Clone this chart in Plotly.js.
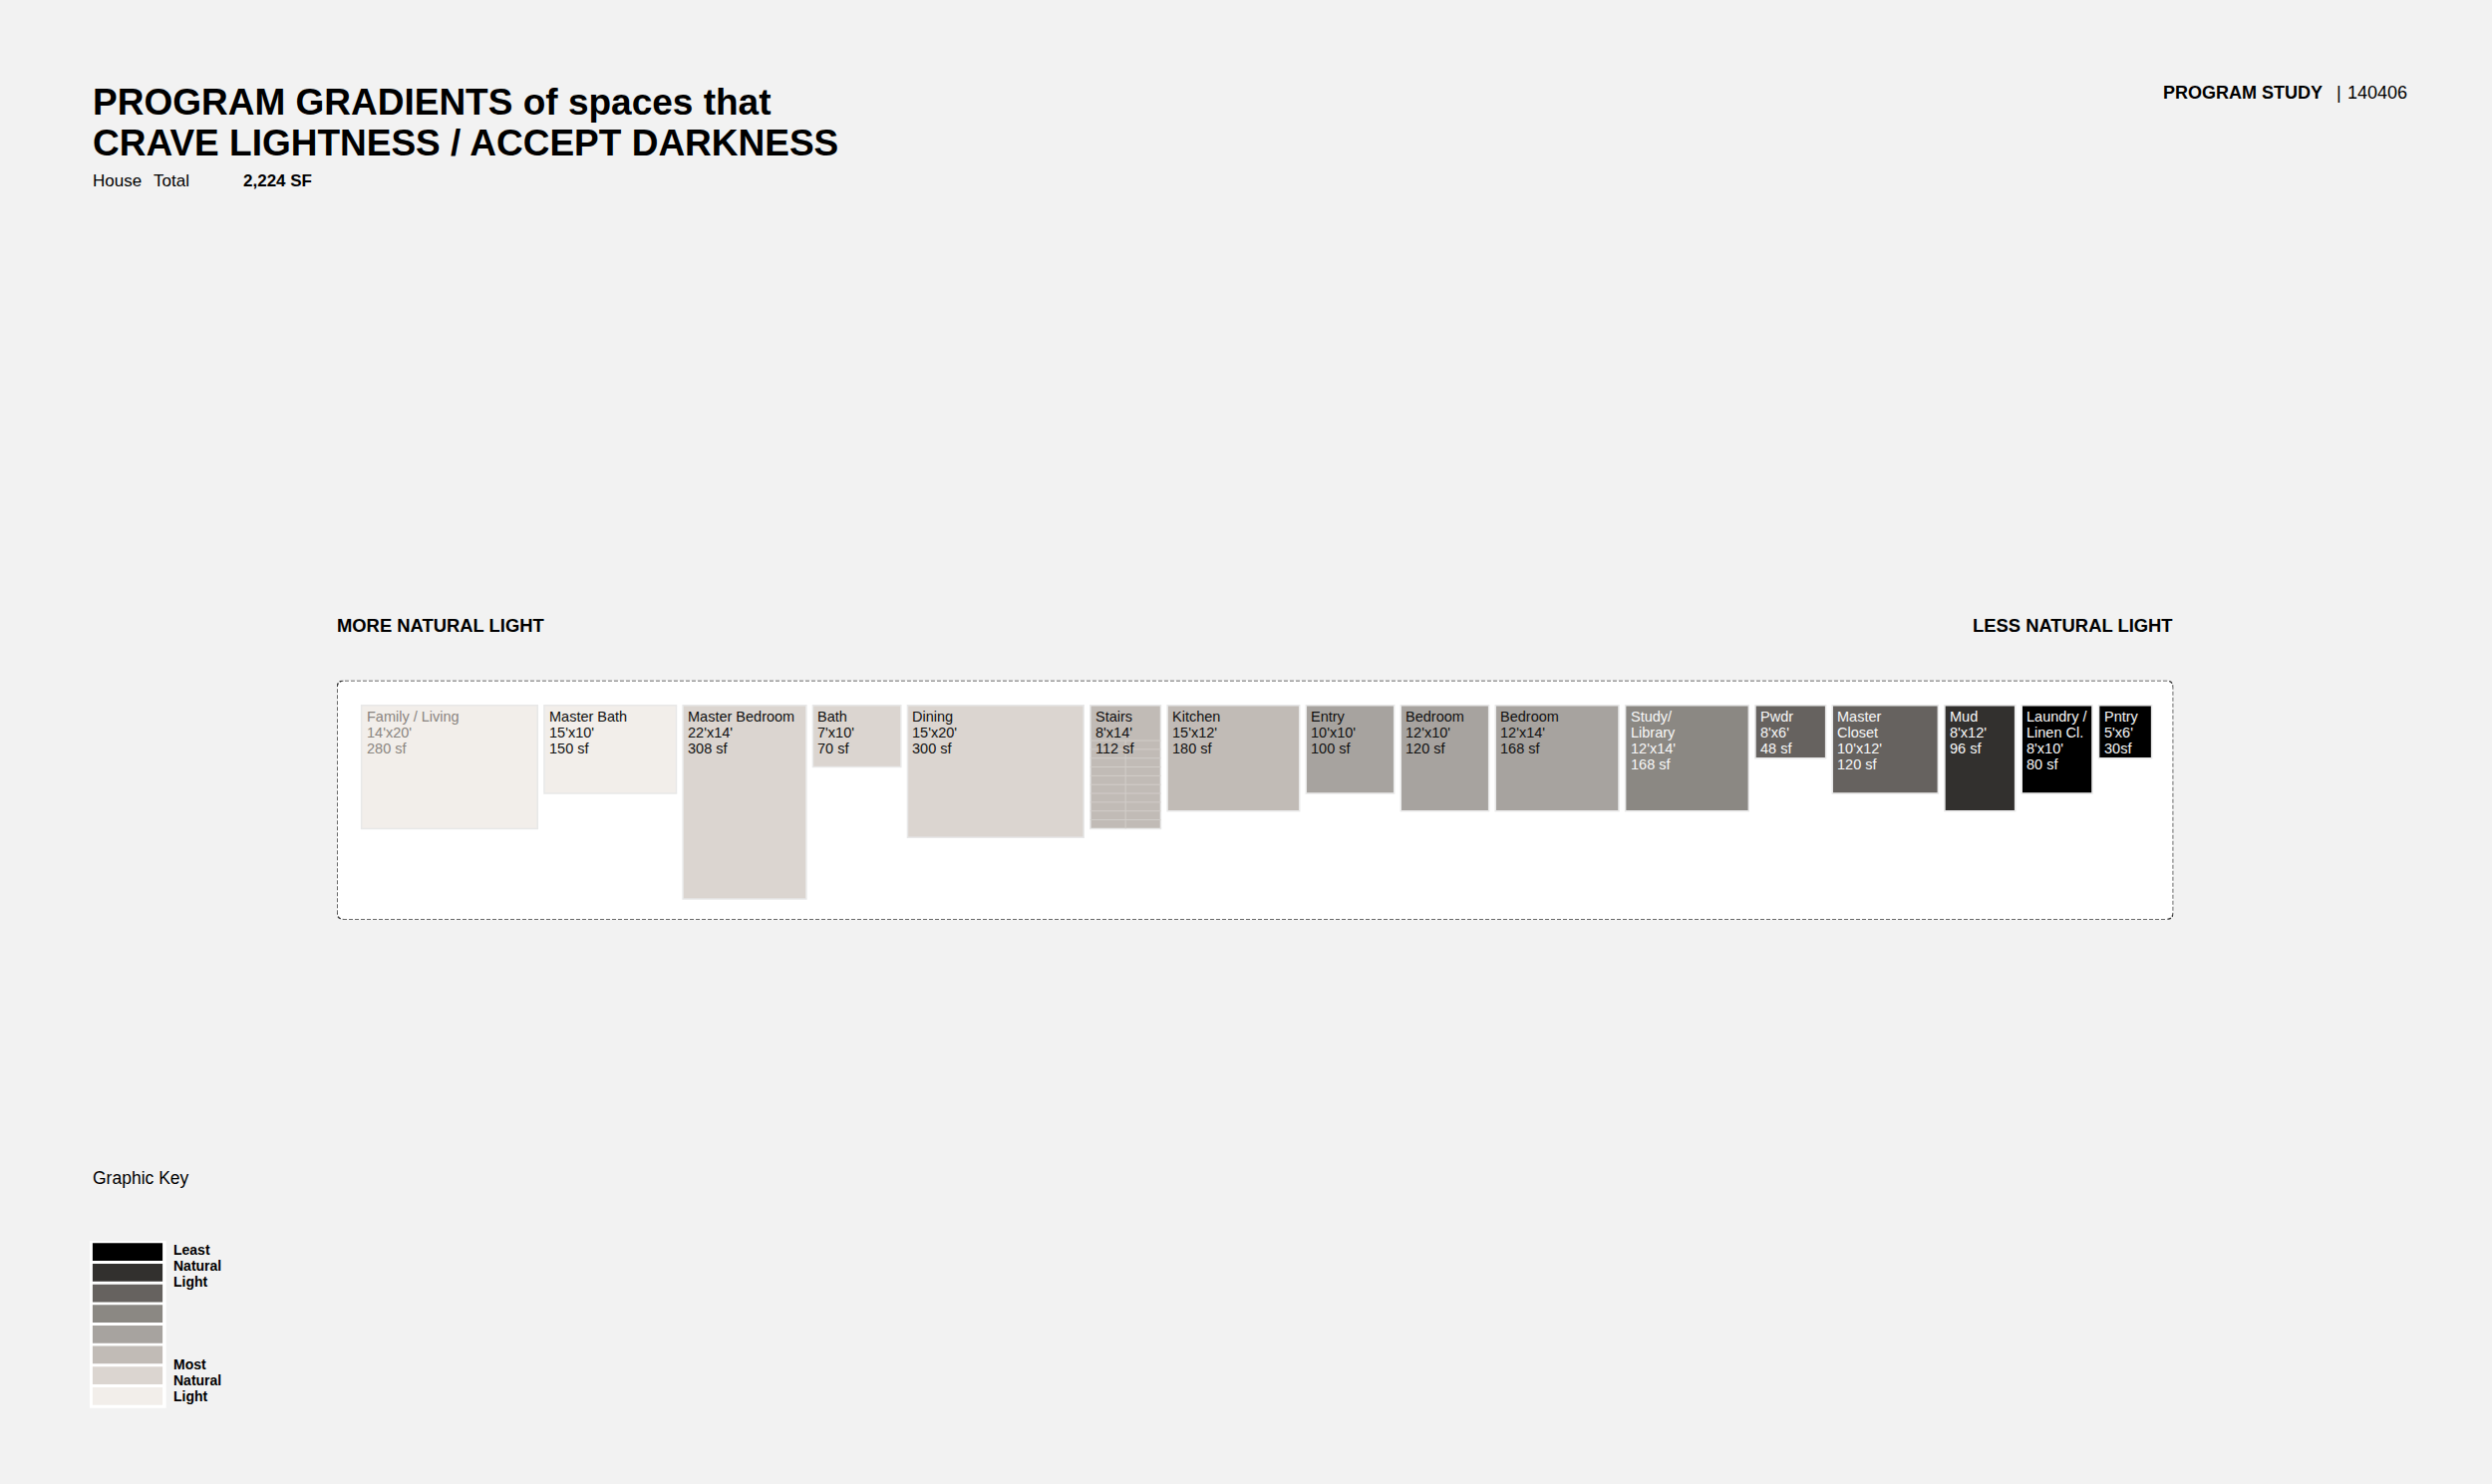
<!DOCTYPE html>
<html><head><meta charset="utf-8">
<script src="https://cdn.plot.ly/plotly-3.0.1.min.js"></script>
<style>html,body{margin:0;padding:0;background:#f2f2f2;}</style>
</head><body><div id="chart" style="width:2500px;height:1489px;"></div>
<script>
// ---------------- DATA ----------------
const rooms = ["Family / Living","Master Bath","Master Bedroom","Bath","Dining","Stairs","Kitchen","Entry","Bedroom","Bedroom","Study/\nLibrary","Pwdr","Master\nCloset","Mud","Laundry /\nLinen Cl.","Pntry"];
const roomDims = ["14'x20'","15'x10'","22'x14'","7'x10'","15'x20'","8'x14'","15'x12'","10'x10'","12'x10'","12'x14'","12'x14'","8'x6'","10'x12'","8'x12'","8'x10'","5'x6'"];
const roomAreaSf = [280,150,308,70,300,112,180,100,120,168,168,48,120,96,80,30];
const roomAreaLabels = ["280 sf","150 sf","308 sf","70 sf","300 sf","112 sf","180 sf","100 sf","120 sf","168 sf","168 sf","48 sf","120 sf","96 sf","80 sf","30sf"];
const drawnWidthFt = [20,15,14,10,20,8,15,10,10,14,14,8,12,8,8,6];
const drawnDepthFt = [14,10,22,7,15,14,12,10,12,12,12,6,10,12,10,6];
const lightRank = [1,1,2,2,2,3,3,4,4,4,5,6,6,7,8,8]; // 1 = most natural light, 8 = least
const keyRanks = [8,7,6,5,4,3,2,1];
const keyTopLabel = ["Least","Natural","Light"];
const keyBottomLabel = ["Most","Natural","Light"];
const houseTotal = "2,224 SF";
const studyCode = "140406";

// ---------------- STYLE / LAYOUT ----------------
const W = 2500, H = 1489;
const FONT = "Liberation Sans, Arial, Helvetica, sans-serif";
const rankColor = {1:"#f2eeea",2:"#dbd5d0",3:"#c1bbb6",4:"#a7a39f",5:"#8b8883",6:"#66625f",7:"#32302e",8:"#000000"};
const gapFt = 0.75;
const pxPerFt = 8.836;
const boxPx = {l:338, r:2180.3, t:682.7, b:922.7};
const padLft = 24.6/pxPerFt, padRft = 21.7/pxPerFt, padTft = 25/pxPerFt;

const lefts = [];
let acc = 0;
drawnWidthFt.forEach((w,i)=>{ lefts.push(acc); acc += w + (i<drawnWidthFt.length-1?gapFt:0); });
const totalFt = acc;
const centers = lefts.map((l,i)=>l+drawnWidthFt[i]/2);

const xr = [-padLft, totalFt + padRft];
const boxHft = (boxPx.b-boxPx.t)/pxPerFt;
const yr = [boxHft - padTft, -padTft];

const annotations = [];
function txt(xPx, basePx, text, size, bold, color, anchor){
  annotations.push({xref:"paper", yref:"paper", x:xPx/W, y:1-(basePx-0.35*size)/H,
    xanchor:anchor||"left", yanchor:"middle", showarrow:false, text:text,
    borderpad:0, borderwidth:0,
    font:{family:FONT, size:size, color:color||"#000", weight:bold?"bold":"normal"}});
}
// Header
txt(92.8, 115, "PROGRAM GRADIENTS of spaces that", 37, true);
txt(92.8, 156.7, "CRAVE LIGHTNESS / ACCEPT DARKNESS", 37, true);
txt(92.8, 187.7, "House", 17, false);
txt(154, 187.7, "Total", 17, false);
txt(244.3, 187.7, houseTotal, 17, true);
txt(2170, 99, "PROGRAM STUDY", 18, true);
txt(2344, 99, "|", 18, false);
txt(2355, 99, studyCode, 18, false);
txt(338, 634.3, "MORE NATURAL LIGHT", 18.4, true);
txt(2180.3, 634.3, "LESS NATURAL LIGHT", 18.4, true, "#000", "right");
// Key
txt(93.3, 1187.7, "Graphic Key", 17.5, false);
keyTopLabel.forEach((t,i)=>txt(174.3, 1259+16*i, t, 14, true));
keyBottomLabel.forEach((t,i)=>txt(174.3, 1374+16*i, t, 14, true));

// Room labels
rooms.forEach((name,i)=>{
  const lines = name.split("\n").concat([roomDims[i], roomAreaLabels[i]]);
  const r = lightRank[i];
  const col = r>=5 ? "#f7f7f7" : (i===0 ? "#8a8580" : "#111111");
  lines.forEach((ln,k)=>{
    annotations.push({xref:"x", yref:"y", x:lefts[i], y:0, xanchor:"left", yanchor:"middle",
      xshift:5, yshift:-(16.3+16*k-0.35*14.5), showarrow:false, text:ln, borderpad:0, borderwidth:0,
      font:{family:FONT, size:14.5, color:col}});
  });
});

// Shapes
const shapes = [];
const r = 0.9;
const [x0,x1] = xr; const y0 = yr[1], y1 = yr[0];
shapes.push({type:"path", xref:"x", yref:"y", layer:"below",
  path:`M ${x0+r},${y0} L ${x1-r},${y0} Q ${x1},${y0} ${x1},${y0+r} L ${x1},${y1-r} Q ${x1},${y1} ${x1-r},${y1} L ${x0+r},${y1} Q ${x0},${y1} ${x0},${y1-r} L ${x0},${y0+r} Q ${x0},${y0} ${x0+r},${y0} Z`,
  fillcolor:"#ffffff", line:{color:"#3a3a3a", width:1.5, dash:"4px,2px"}});
// stair treads
const si = rooms.indexOf("Stairs");
for(let k=4;k<drawnDepthFt[si];k++){
  shapes.push({type:"line", xref:"x", yref:"y", x0:lefts[si], x1:lefts[si]+drawnWidthFt[si], y0:k, y1:k,
    line:{color:"#d2cdc9", width:1}});
}
shapes.push({type:"line", xref:"x", yref:"y", x0:centers[si], x1:centers[si], y0:4, y1:drawnDepthFt[si],
  line:{color:"#d2cdc9", width:1}});
// key panel
shapes.push({type:"rect", xref:"paper", yref:"paper", layer:"below", x0:90/W, x1:166.7/W, y0:1-1412.7/H, y1:1-1245/H,
  fillcolor:"#ffffff", line:{width:0}});

const data = [
  {type:"bar", x:centers, y:drawnDepthFt, width:drawnWidthFt, base:0,
   marker:{color:lightRank.map(v=>rankColor[v]), line:{color:"#e8e8e8", width:1.5}},
   hoverinfo:"none", xaxis:"x", yaxis:"y", customdata:roomAreaSf},
  {type:"bar", orientation:"h", y:keyRanks.map((v,i)=>i), x:keyRanks.map(()=>1), width:0.86,
   marker:{color:keyRanks.map(v=>rankColor[v]), line:{width:0}},
   hoverinfo:"none", xaxis:"x2", yaxis:"y2"}
];

const ax = {showgrid:false, zeroline:false, showticklabels:false, showline:false, ticks:"", fixedrange:true};
const layout = {
  width:W, height:H, margin:{l:0,r:0,t:0,b:0,pad:0},
  paper_bgcolor:"#f2f2f2", plot_bgcolor:"rgba(0,0,0,0)", showlegend:false, barmode:"overlay",
  xaxis:Object.assign({domain:[boxPx.l/W, boxPx.r/W], range:xr, anchor:"y"}, ax),
  yaxis:Object.assign({domain:[1-boxPx.b/H, 1-boxPx.t/H], range:yr, anchor:"x"}, ax),
  xaxis2:Object.assign({domain:[92.7/W, 163.3/W], range:[0,1], anchor:"y2"}, ax),
  yaxis2:Object.assign({domain:[1-1411.1/H, 1-1245.9/H], range:[7.5,-0.5], anchor:"x2"}, ax),
  shapes:shapes, annotations:annotations
};
Plotly.newPlot("chart", data, layout, {displayModeBar:false, staticPlot:true});
</script></body></html>
